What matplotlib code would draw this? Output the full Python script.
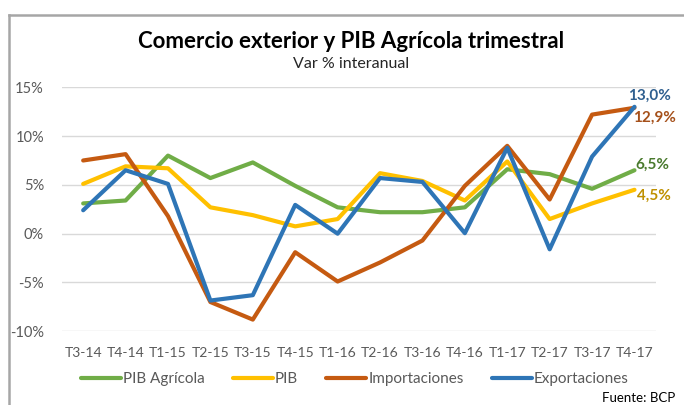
import matplotlib
matplotlib.use('Agg')
import matplotlib.pyplot as plt
from matplotlib.lines import Line2D

plt.rcParams['font.family'] = ['Lato', 'DejaVu Sans']

quarters = ['T3-14', 'T4-14', 'T1-15', 'T2-15', 'T3-15', 'T4-15', 'T1-16',
            'T2-16', 'T3-16', 'T4-16', 'T1-17', 'T2-17', 'T3-17', 'T4-17']
pib_agricola = [3.1, 3.4, 8.0, 5.7, 7.3, 4.9, 2.7, 2.2, 2.2, 2.7, 6.6, 6.1, 4.6, 6.5]
pib = [5.1, 6.9, 6.7, 2.7, 1.9, 0.75, 1.5, 6.2, 5.4, 3.4, 7.4, 1.5, 3.1, 4.5]
importaciones = [7.5, 8.15, 1.8, -7.0, -8.8, -1.9, -4.9, -2.95, -0.7, 4.9, 9.0, 3.5, 12.2, 12.9]
exportaciones = [2.4, 6.5, 5.1, -6.85, -6.3, 2.95, 0.0, 5.7, 5.3, 0.05, 8.8, -1.6, 7.9, 13.0]
yticks = [-10, -5, 0, 5, 10, 15]
ytick_labels = ['-10%', '-5%', '0%', '5%', '10%', '15%']

fig = plt.figure(figsize=(6.84, 4.05), dpi=100)
ax = fig.add_axes([0.0906, 0.182, 0.868, 0.6025])

x = range(len(quarters))
series = [
    ('PIB Agrícola', pib_agricola, '#70AD47'),
    ('PIB', pib, '#FFC000'),
    ('Importaciones', importaciones, '#C55A11'),
    ('Exportaciones', exportaciones, '#2E75B6'),
]
for name, vals, col in series:
    ax.plot(x, vals, color=col, lw=3, label=name, solid_capstyle='round', zorder=3)

ax.set_xlim(-0.5, len(quarters) - 0.5)
ax.set_ylim(-10, 15)
ax.set_yticks(yticks)
ax.set_yticklabels(ytick_labels)
ax.set_xticks(list(x))
ax.set_xticklabels(quarters)
ax.tick_params(axis='y', length=0, pad=13, labelsize=10.5, labelcolor='#595959')
ax.tick_params(axis='x', length=0, pad=11, labelsize=10, labelcolor='#595959')
ax.grid(axis='y', color='#D9D9D9', lw=1)
ax.set_axisbelow(True)
for s in ax.spines.values():
    s.set_visible(False)

# end labels
last = len(quarters) - 1
ax.annotate('13,0%', (last, exportaciones[-1]), xytext=(11, 8), textcoords='offset points',
            ha='center', va='center', fontsize=11, fontweight='bold', color='#2F5F8F')
ax.annotate('12,9%', (last, importaciones[-1]), xytext=(-1, -7), textcoords='offset points',
            ha='left', va='center', fontsize=11, fontweight='bold', color='#A5501A')
ax.annotate('6,5%', (last, pib_agricola[-1]), xytext=(1, 4), textcoords='offset points',
            ha='left', va='center', fontsize=11, fontweight='bold', color='#4A7A2E')
ax.annotate('4,5%', (last, pib[-1]), xytext=(2, -4), textcoords='offset points',
            ha='left', va='center', fontsize=11, fontweight='bold', color='#BF9000')

fig.text(351 / 684, 1 - 42 / 405, 'Comercio exterior y PIB Agrícola trimestral',
         ha='center', va='center', fontsize=16, fontweight='bold', color='black')
fig.text(351 / 684, 1 - 64 / 405, 'Var % interanual', ha='center', va='center',
         fontsize=11.5, color='#262626')

leg = fig.legend(loc='center', bbox_to_anchor=(355 / 684, 1 - 379 / 405), ncol=4,
                 frameon=False, fontsize=11, handlelength=2.6, handletextpad=0.15,
                 columnspacing=1.85)
for t in leg.get_texts():
    t.set_color('#595959')

fig.text(675 / 684, 1 - 398 / 405, 'Fuente: BCP', ha='right', va='center', fontsize=9.5,
         color='black')

# chart frame
fig.add_artist(Line2D([9 / 684, 1.0], [1 - 15 / 405, 1 - 15 / 405], color='#A6A6A6', lw=1.8))
fig.add_artist(Line2D([9 / 684, 9 / 684], [0.0, 1 - 15 / 405], color='#A6A6A6', lw=1.8))

fig.savefig('out.png', dpi=100)
